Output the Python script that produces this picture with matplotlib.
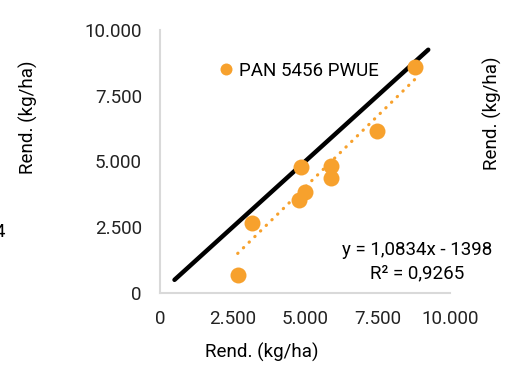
import numpy as np
import matplotlib.pyplot as plt
from matplotlib.ticker import FuncFormatter

plt.rcParams['font.family'] = ['Roboto', 'DejaVu Sans']

# yield data (kg/ha)
x_vals = [2680, 3160, 4860, 4790, 5000, 5900, 5900, 7470, 8790]
y_vals = [690, 2650, 4800, 3540, 3830, 4830, 4390, 6160, 8580]
series_name = 'PAN 5456 PWUE'
slope, intercept = 1.0834, -1398
r2_text = 'R² = 0,9265'
eq_text = 'y = 1,0834x - 1398'
ref_line = [500, 9250]
ticks = [0, 2500, 5000, 7500, 10000]

orange = '#F7A12D'

fig = plt.figure(figsize=(5.05, 3.69), dpi=100)
ax = fig.add_axes([160/505, (369-293)/369, 290/505, (293-30)/369])

ax.plot(ref_line, ref_line, color='black', lw=3.2, solid_capstyle='round', zorder=2)

xs = np.array([min(x_vals), max(x_vals)])
ax.plot(xs, slope*xs + intercept, color=orange, lw=2.3,
        linestyle=(0, (0.1, 2.4)), dash_capstyle='round', zorder=3)

ax.plot(x_vals, y_vals, 'o', color=orange, ms=11.5, mec='none', label=series_name, zorder=4)

ax.set_xlim(0, 10000)
ax.set_ylim(0, 10000)
ax.set_xticks(ticks)
ax.set_yticks(ticks)
fmt = FuncFormatter(lambda v, p: f'{int(v):,}'.replace(',', '.'))
ax.xaxis.set_major_formatter(fmt)
ax.yaxis.set_major_formatter(fmt)
ax.tick_params(length=0, labelsize=13.5, colors='#222222')
ax.tick_params(axis='x', pad=12)
ax.tick_params(axis='y', pad=13)
for s in ['top', 'right']:
    ax.spines[s].set_visible(False)
for s in ['left', 'bottom']:
    ax.spines[s].set_color('#d9d9d9')
    ax.spines[s].set_linewidth(1.5)

ax.legend(loc='center left', bbox_to_anchor=(0.15, 0.845), frameon=False,
          fontsize=13.5, handlelength=0.6, handletextpad=0.4, markerscale=0.75)

fig.text(417/505, 1 - 262/369, eq_text + '\n' + r2_text, fontsize=13.5,
         ha='center', va='center', linespacing=1.4)

fig.text(262/505, 1 - 352/369, 'Rend. (kg/ha)', ha='center', va='center', fontsize=13.5)
fig.text(28/505, 1 - 117/369, 'Rend. (kg/ha)', ha='center', va='center', rotation=90, fontsize=13.5)
fig.text(492/505, 1 - 113/369, 'Rend. (kg/ha)', ha='center', va='center', rotation=90, fontsize=13.5)
fig.text(5/505, 1 - 232/369, '4', ha='right', va='center', fontsize=13.5)

fig.savefig('out.png', dpi=100)
